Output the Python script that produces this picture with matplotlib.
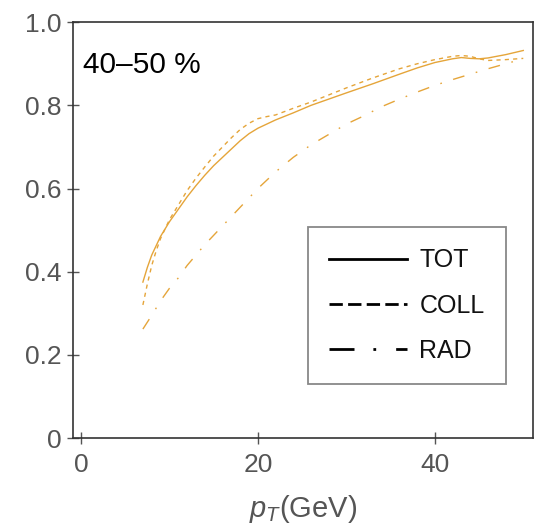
import matplotlib
matplotlib.use("Agg")
import matplotlib.pyplot as plt
from matplotlib.lines import Line2D

plt.rcParams["font.family"] = ["Liberation Sans", "DejaVu Sans"]
plt.rcParams["mathtext.fontset"] = "custom"
plt.rcParams["mathtext.rm"] = "Liberation Sans"
plt.rcParams["mathtext.it"] = "Liberation Sans:italic"

pt_tot = [7, 7.5, 8, 9, 10, 11, 12, 13, 14, 15, 16, 17, 18, 19, 20, 21, 22, 24, 26, 28, 30, 33, 36, 38, 40, 42, 43, 44, 45, 46, 48, 50]
tot = [0.375, 0.41, 0.44, 0.485, 0.52, 0.55, 0.58, 0.607, 0.632, 0.655, 0.675, 0.695, 0.715, 0.732, 0.745, 0.755, 0.765, 0.782, 0.80, 0.815, 0.83, 0.852, 0.875, 0.89, 0.903, 0.912, 0.915, 0.913, 0.912, 0.914, 0.922, 0.932]

pt_coll = [7, 7.5, 8, 8.5, 9, 10, 11, 12, 13, 14, 15, 16, 17, 18, 19, 20, 21, 22, 24, 26, 28, 30, 33, 36, 38, 40, 42, 43, 44, 45, 46, 48, 50]
coll = [0.32, 0.37, 0.415, 0.45, 0.48, 0.525, 0.56, 0.595, 0.625, 0.652, 0.678, 0.70, 0.722, 0.742, 0.757, 0.768, 0.773, 0.777, 0.793, 0.808, 0.825, 0.842, 0.866, 0.888, 0.90, 0.91, 0.918, 0.92, 0.918, 0.912, 0.908, 0.91, 0.913]

pt_rad = [7, 8, 9, 10, 11, 12, 13, 14, 16, 18, 20, 22, 24, 26, 28, 30, 32, 34, 36, 38, 40, 42, 44, 46, 48, 50]
rad = [0.262, 0.295, 0.33, 0.36, 0.385, 0.415, 0.44, 0.465, 0.51, 0.555, 0.60, 0.64, 0.675, 0.705, 0.73, 0.755, 0.775, 0.797, 0.815, 0.832, 0.848, 0.862, 0.875, 0.888, 0.90, 0.912]

labels = ["TOT", "COLL", "RAD"]
xticks = [0, 20, 40]
yticks = [0, 0.2, 0.4, 0.6, 0.8, 1.0]
ytick_labels = ["0", "0.2", "0.4", "0.6", "0.8", "1.0"]

color = "#E5A53A"
gray = "#555555"

fig = plt.figure(figsize=(5.38, 5.29), dpi=100)
ax = fig.add_axes([0.1357, 0.172, 0.855, 0.786])

ax.plot(pt_tot, tot, color=color, lw=1.0, linestyle="-")
ax.plot(pt_coll, coll, color=color, lw=1.0, linestyle=(0, (3, 3)))
ax.plot(pt_rad, rad, color=color, lw=1.0, linestyle=(0, (8.5, 8.5, 1.2, 8.5)))

ax.set_xlim(-0.9, 51.1)
ax.set_ylim(0, 1.0)
ax.set_xticks(xticks)
ax.set_yticks(yticks)
ax.set_yticklabels(ytick_labels)
ax.tick_params(direction="inout", length=9, width=1, color=gray,
               labelsize=19, labelcolor=gray)
ax.tick_params(axis="x", pad=6)
ax.tick_params(axis="y", pad=4)
for s in ax.spines.values():
    s.set_color("#333333")
    s.set_linewidth(1.2)

ax.set_xlabel("$p_T$(GeV)", fontsize=21, color=gray, labelpad=12)
ax.text(0.022, 0.897, "40\u201350 %", transform=ax.transAxes, fontsize=21.5,
        color="black", va="center", ha="left")

handles = [
    Line2D([], [], color="black", lw=2, linestyle="-"),
    Line2D([], [], color="black", lw=2, linestyle=(0, (4.8, 1.9))),
    Line2D([], [], color="black", lw=2, linestyle=(0, (9, 6.8, 1, 7.2, 4.3, 20))),
]
leg = ax.legend(handles, labels, loc="upper left", bbox_to_anchor=(0.511, 0.507),
                borderaxespad=0, fontsize=18, frameon=True, fancybox=False,
                handlelength=3.1, handletextpad=0.5, borderpad=0.85,
                labelspacing=0.85, edgecolor="#888888", framealpha=1)
leg.get_frame().set_linewidth(1.3)
for t in leg.get_texts():
    t.set_color("#111111")

fig.savefig("out.png", dpi=100)
